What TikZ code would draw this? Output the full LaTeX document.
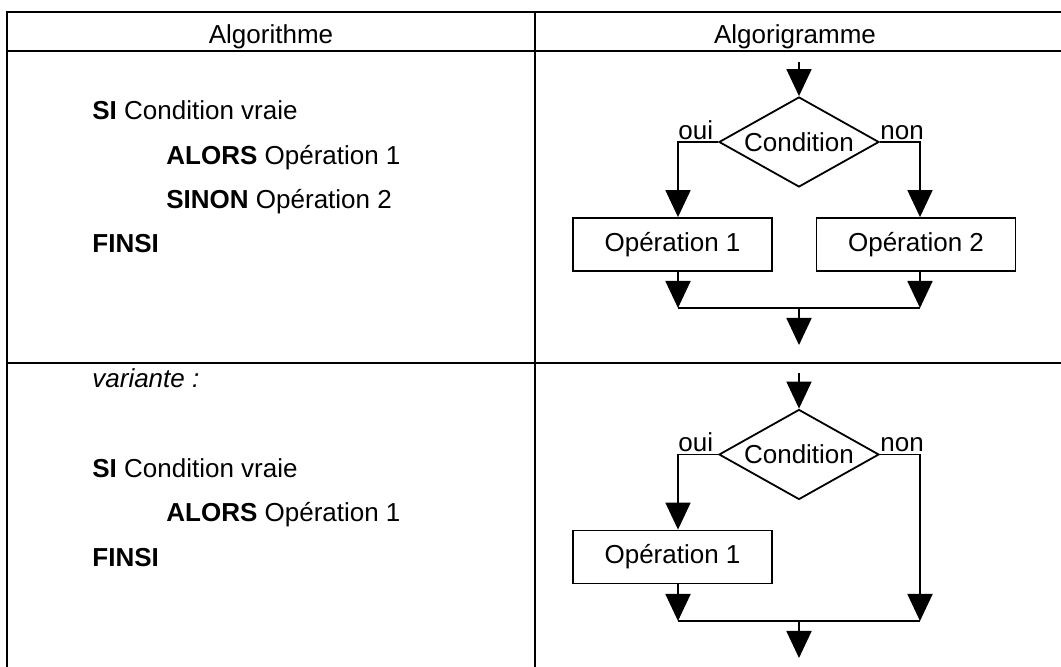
\documentclass[tikz,border=0pt]{standalone}
\usepackage{fontspec}
\setmainfont{Liberation Sans}
\usepackage{tikz}
\usetikzlibrary{shapes, arrows.meta, positioning}

\begin{document}
\begin{tikzpicture}[x=0.5pt, y=-0.5pt,
        font=\fontsize{13}{15}\selectfont,
        grille/.style={line width=1.3pt},
        trait/.style={line width=0.9pt},
        fleche/.style={trait, -{Triangle[width=12.5pt, length=13.5pt]}},
        cond/.style={draw, diamond, aspect=1.8, line width=0.9pt, minimum width=80pt, minimum height=45pt, inner sep=0pt},
        oper/.style={draw, rectangle, line width=0.9pt, minimum width=99.5pt, minimum height=26.5pt, inner sep=0pt},
        lab/.style={anchor=base west, inner sep=0pt},
        ligne/.style={anchor=base west, inner sep=0pt}]
    \useasboundingbox (0,0) rectangle (1061,667);

    % tableau
    \draw[grille] (1061,12) -- (7,12) -- (7,667);
    \draw[grille] (7,51) -- (1061,51);
    \draw[grille] (7,363) -- (1061,363);
    \draw[grille] (535,12) -- (535,667);
    \node[anchor=base] (titre1) at (271,44) {Algorithme};
    \node[anchor=base] (titre2) at (795,44) {Algorigramme};

    % algorithme
    \node[ligne] (si1) at (92,120) {\textbf{SI} Condition vraie};
    \node[ligne] (alors1) at (166,165) {\textbf{ALORS} Opération 1};
    \node[ligne] (sinon1) at (166,209) {\textbf{SINON} Opération 2};
    \node[ligne] (finsi1) at (92,253) {\textbf{FINSI}};

    \node[ligne] (var) at (92,388) {\textit{variante :}};
    \node[ligne] (si2) at (92,478) {\textbf{SI} Condition vraie};
    \node[ligne] (alors2) at (166,522) {\textbf{ALORS} Opération 1};
    \node[ligne] (finsi2) at (92,567) {\textbf{FINSI}};

    % algorigramme 1
    \node[cond] (cond1) at (799,142) {Condition};
    \node[oper] (op1) at (672.5,244.5) {Opération 1};
    \node[oper] (op2) at (916,244.5) {Opération 2};
    \node[lab] (oui1) at (678,140) {oui};
    \node[lab] (non1) at (880,140) {non};
    \coordinate (e1) at (799,62);
    \coordinate (g1) at (678,308);
    \coordinate (d1) at (920,308);
    \coordinate (j1) at (799,308);
    \coordinate (s1) at (799,345);
    \draw[fleche] (e1) -- (cond1.north);
    \draw[fleche] (cond1.west) -| (op1.north -| g1);
    \draw[fleche] (cond1.east) -| (op2.north -| d1);
    \draw[fleche] (op1.south -| g1) -- (g1);
    \draw[fleche] (op2.south -| d1) -- (d1);
    \draw[trait] (g1) -- (d1);
    \draw[fleche] (j1) -- (s1);

    % algorigramme 2
    \node[cond] (cond2) at (799,454.5) {Condition};
    \node[oper] (op3) at (672.5,557) {Opération 1};
    \node[lab] (oui2) at (678,452) {oui};
    \node[lab] (non2) at (880,452) {non};
    \coordinate (e2) at (799,373);
    \coordinate (g2) at (678,621);
    \coordinate (d2) at (920,621);
    \coordinate (j2) at (799,621);
    \coordinate (s2) at (799,658);
    \draw[fleche] (e2) -- (cond2.north);
    \draw[fleche] (cond2.west) -| (op3.north -| g2);
    \draw[fleche] (cond2.east) -| (d2);
    \draw[fleche] (op3.south -| g2) -- (g2);
    \draw[trait] (g2) -- (d2);
    \draw[fleche] (j2) -- (s2);
\end{tikzpicture}
\end{document}
